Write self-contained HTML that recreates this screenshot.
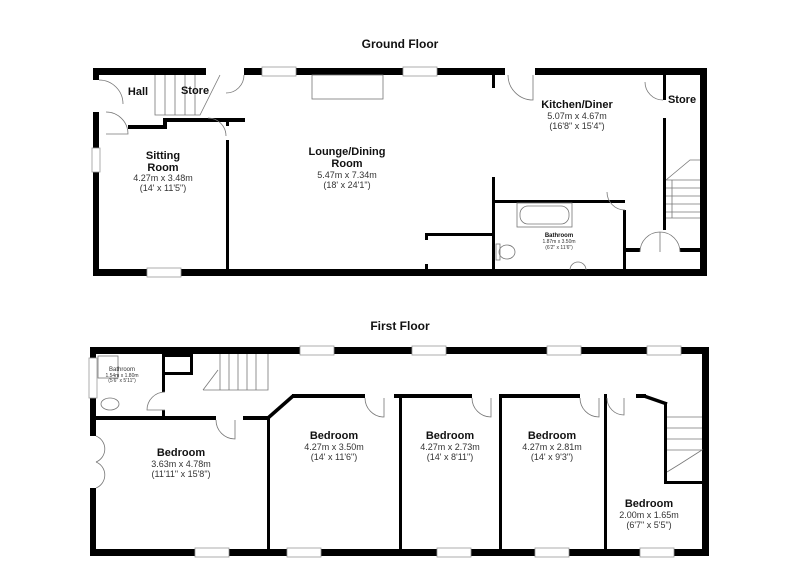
<!DOCTYPE html>
<html><head><meta charset="utf-8"><style>
html,body{margin:0;padding:0;background:#fff;}
svg{display:block;font-family:"Liberation Sans",Arial,sans-serif;}
.t{font-weight:bold;font-size:11px;text-anchor:middle;fill:#111}
.d{font-size:9px;text-anchor:middle;fill:#333}
.s{font-size:5px;text-anchor:middle;fill:#333}
.l{fill:none;stroke:#777;stroke-width:0.8}
.w{fill:#fff;stroke:#999;stroke-width:0.8}
</style></head><body>
<svg width="800" height="582" viewBox="0 0 800 582">
<text x="400" y="48" class="t" style="font-size:12px">Ground Floor</text>
<text x="400" y="330" class="t" style="font-size:12px">First Floor</text>

<!-- GROUND FLOOR walls -->
<g fill="#000">
<rect x="93" y="68" width="614" height="7"/>
<rect x="93" y="269" width="614" height="7"/>
<rect x="93" y="68" width="6" height="208"/>
<rect x="700" y="68" width="7" height="208"/>
<rect x="128" y="125" width="37" height="4"/>
<rect x="163" y="118" width="4" height="11"/>
<rect x="163" y="118" width="82" height="4"/>
<rect x="226" y="140" width="3" height="130"/>
<rect x="226" y="118" width="3" height="8"/>
<rect x="492" y="75" width="3" height="13"/>
<rect x="492" y="177" width="3" height="93"/>
<rect x="495" y="200" width="130" height="3"/>
<rect x="623" y="210" width="3" height="60"/>
<rect x="425" y="233" width="68" height="3"/>
<rect x="425" y="233" width="3" height="7"/>
<rect x="425" y="264" width="3" height="6"/>
<rect x="663" y="75" width="3" height="25"/>
<rect x="663" y="118" width="3" height="112"/>
<rect x="625" y="248" width="15" height="4"/>
<rect x="680" y="248" width="20" height="4"/>
</g>
<rect x="262" y="67" width="34" height="9" class="w"/>
<rect x="403" y="67" width="34" height="9" class="w"/>
<rect x="505" y="67" width="30" height="9" fill="#fff"/>
<rect x="92" y="80" width="8" height="32" fill="#fff"/>
<rect x="92" y="148" width="8" height="24" class="w"/>
<rect x="147" y="268" width="34" height="9" class="w"/>
<rect x="206" y="67" width="38" height="9" fill="#fff"/>
<path class="l" d="M99 80 A24 24 0 0 1 123 104 M106 112 A22 22 0 0 1 128 134 L106 134 M208 118 A18 18 0 0 1 226 136 M244 75 A18 18 0 0 1 226 93 M508 75 A25 25 0 0 0 533 100 L533 75 M663 100 A18 18 0 0 1 645 82 M625 210 A18 18 0 0 1 607 192 M640 252 A20 20 0 0 1 660 232 L660 252 M680 252 A20 20 0 0 0 660 232"/>
<path class="l" d="M155 75 V115 H200 L220 75 M165 75 V115 M175 75 V115 M185 75 V115 M195 75 V115"/>
<rect x="312" y="75" width="71" height="24" class="l"/>
<path class="l" d="M666 180 L690 160 H700 M666 180 H700 M666 188 H700 M666 196 H700 M666 204 H700 M666 212 H700 M666 218 H700 M672 180 V218"/>
<rect x="517" y="203" width="55" height="24" class="l"/>
<rect x="520" y="206" width="49" height="18" rx="8" class="l"/>
<ellipse cx="507" cy="252" rx="8" ry="7" class="l"/><rect x="496" y="244" width="4" height="16" class="l"/>
<path class="l" d="M570 270 A8 8 0 0 1 586 270"/>

<text x="138" y="95" class="t">Hall</text>
<text x="195" y="94" class="t">Store</text>
<text x="682" y="103" class="t">Store</text>
<text x="163" y="159" class="t">Sitting</text>
<text x="163" y="171" class="t">Room</text>
<text x="163" y="181" class="d">4.27m x 3.48m</text>
<text x="163" y="191" class="d">(14' x 11'5")</text>
<text x="347" y="155" class="t">Lounge/Dining</text>
<text x="347" y="167" class="t">Room</text>
<text x="347" y="178" class="d">5.47m x 7.34m</text>
<text x="347" y="188" class="d">(18' x 24'1")</text>
<text x="577" y="108" class="t">Kitchen/Diner</text>
<text x="577" y="119" class="d">5.07m x 4.67m</text>
<text x="577" y="129" class="d">(16'8" x 15'4")</text>
<text x="559" y="237" class="t" style="font-size:6px">Bathroom</text>
<text x="559" y="243" class="s">1.87m x 3.50m</text>
<text x="559" y="249" class="s">(6'2" x 11'6")</text>

<!-- FIRST FLOOR walls -->
<g fill="#000">
<rect x="90" y="347" width="619" height="7"/>
<rect x="90" y="549" width="619" height="7"/>
<rect x="90" y="347" width="6" height="209"/>
<rect x="702" y="347" width="7" height="209"/>
<rect x="162" y="354" width="3" height="38"/>
<rect x="162" y="410" width="3" height="10"/>
<rect x="165" y="354" width="28" height="3"/>
<rect x="165" y="372" width="28" height="3"/>
<rect x="190" y="354" width="3" height="21"/>
<rect x="96" y="416" width="120" height="4"/>
<rect x="243" y="416" width="27" height="4"/>
<rect x="267" y="416" width="3" height="133"/>
<rect x="292" y="394" width="73" height="4"/>
<rect x="399" y="394" width="3" height="155"/>
<rect x="394" y="394" width="78" height="4"/>
<rect x="499" y="394" width="3" height="155"/>
<rect x="499" y="394" width="81" height="4"/>
<rect x="604" y="394" width="3" height="155"/>
<rect x="636" y="394" width="10" height="4"/>
<rect x="664" y="402" width="3" height="82"/>
<rect x="664" y="481" width="43" height="3"/>
</g>
<path d="M268 418 L293 396" stroke="#000" stroke-width="3.5"/>
<path d="M644 396 L667 404" stroke="#000" stroke-width="3.5"/>
<rect x="300" y="346" width="34" height="9" class="w"/>
<rect x="412" y="346" width="34" height="9" class="w"/>
<rect x="547" y="346" width="34" height="9" class="w"/>
<rect x="647" y="346" width="34" height="9" class="w"/>
<rect x="195" y="548" width="34" height="9" class="w"/>
<rect x="287" y="548" width="34" height="9" class="w"/>
<rect x="437" y="548" width="34" height="9" class="w"/>
<rect x="535" y="548" width="34" height="9" class="w"/>
<rect x="640" y="548" width="34" height="9" class="w"/>
<rect x="89" y="358" width="8" height="40" class="w"/>
<rect x="89" y="436" width="8" height="52" fill="#fff"/>
<path class="l" d="M96 436 A14 14 0 0 1 96 462 M96 462 A14 14 0 0 1 96 488 M165 392 A18 18 0 0 0 147 410 L165 410 M216 420 A19 19 0 0 0 235 439 L235 420 M365 398 A19 19 0 0 0 384 417 L384 398 M472 398 A19 19 0 0 0 491 417 L491 398 M580 398 A19 19 0 0 0 599 417 L599 398 M607 398 A17 17 0 0 0 624 415 L624 398"/>
<path class="l" d="M203 390 H268 V354 M220 354 V390 M229 354 V390 M238 354 V390 M247 354 V390 M256 354 V390 M203 390 L218 370"/>
<path class="l" d="M667 417 H702 M667 428 H702 M667 439 H702 M667 450 H702 L680 464 L667 472"/>
<rect x="98" y="356" width="20" height="22" class="l"/>
<ellipse cx="110" cy="404" rx="9" ry="6" class="l"/>
<text x="122" y="371" class="s" style="font-size:6px">Bathroom</text>
<text x="122" y="377" class="s">1.54m x 1.80m</text>
<text x="122" y="382" class="s">(5'6" x 5'11")</text>
<text x="181" y="456" class="t">Bedroom</text>
<text x="181" y="467" class="d">3.63m x 4.78m</text>
<text x="181" y="477" class="d">(11'11" x 15'8")</text>
<text x="334" y="439" class="t">Bedroom</text>
<text x="334" y="450" class="d">4.27m x 3.50m</text>
<text x="334" y="460" class="d">(14' x 11'6")</text>
<text x="450" y="439" class="t">Bedroom</text>
<text x="450" y="450" class="d">4.27m x 2.73m</text>
<text x="450" y="460" class="d">(14' x 8'11")</text>
<text x="552" y="439" class="t">Bedroom</text>
<text x="552" y="450" class="d">4.27m x 2.81m</text>
<text x="552" y="460" class="d">(14' x 9'3")</text>
<text x="649" y="507" class="t">Bedroom</text>
<text x="649" y="518" class="d">2.00m x 1.65m</text>
<text x="649" y="528" class="d">(6'7" x 5'5")</text>
</svg>
</body></html>
